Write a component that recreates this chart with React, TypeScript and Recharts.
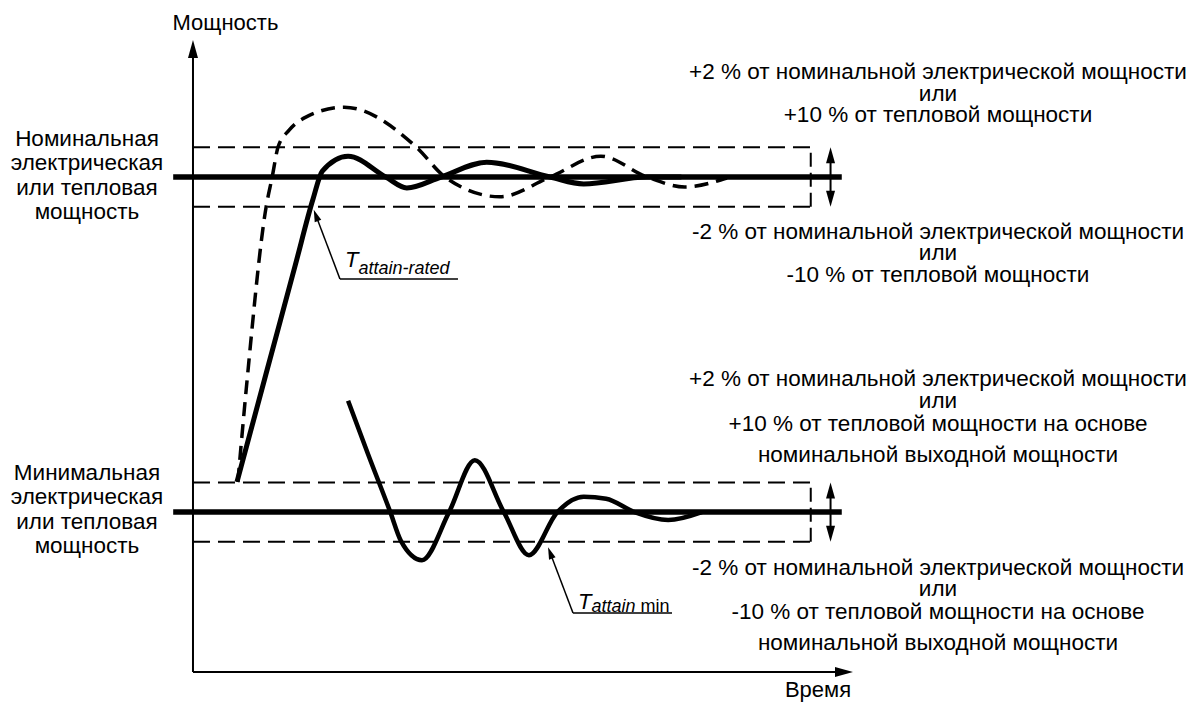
import { LineChart, Line, XAxis, YAxis, ReferenceLine, ReferenceDot } from "recharts"

// time in arbitrary units (0 at the power axis), power in % of nominal
const NOMINAL = 100
const MINIMUM = 32.3
const BAND = 6
const BOX_END = 93.6
const LEVEL_START = -3
const LEVEL_END = 98.3
const TOL_ARROW_T = 96.6

// response reaching nominal power (solid)
const ratedCurve = [
  { t: 6.67, p: 38.4 },
  { t: 11, p: 59.9 },
  { t: 15.5, p: 82.2 },
  { t: 18.2, p: 95.6 },
  { t: 19.6, p: 101.2 },
  { t: 23.5, p: 104.2 },
  { t: 29.2, p: 100 },
  { t: 32.4, p: 97.8 },
  { t: 37.6, p: 100 },
  { t: 44.5, p: 103 },
  { t: 54.1, p: 100 },
  { t: 59.2, p: 98.6 },
  { t: 68.8, p: 100 },
  { t: 74, p: 100 },
]

// overshooting response (dashed)
const overshootCurve = [
  { t: 6.8, p: 38.4 },
  { t: 8.2, p: 59 },
  { t: 11.1, p: 94.1 },
  { t: 12, p: 100 },
  { t: 12.9, p: 106.1 },
  { t: 14.6, p: 109.5 },
  { t: 17.1, p: 112.1 },
  { t: 22.9, p: 114.1 },
  { t: 33.8, p: 106.1 },
  { t: 38.2, p: 100 },
  { t: 46.5, p: 96 },
  { t: 54.1, p: 100 },
  { t: 61.8, p: 104.2 },
  { t: 68.8, p: 100 },
  { t: 74.5, p: 98 },
  { t: 80.9, p: 99.8 },
]

// response settling at minimum power (solid)
const minCurve = [
  { t: 23.5, p: 54.8 },
  { t: 26.5, p: 44.1 },
  { t: 29.9, p: 32.3 },
  { t: 31.5, p: 26.5 },
  { t: 34.7, p: 22.6 },
  { t: 38.8, p: 32.3 },
  { t: 42.7, p: 42.8 },
  { t: 47.1, p: 32.3 },
  { t: 50.9, p: 23.6 },
  { t: 55.2, p: 32.3 },
  { t: 59.2, p: 35.4 },
  { t: 62.6, p: 35 },
  { t: 66.9, p: 32.3 },
  { t: 72, p: 30.7 },
  { t: 77.1, p: 32.3 },
]

const upperNominalNote = ["+2 % от номинальной электрической мощности", "или", "+10 % от тепловой мощности"]
const lowerNominalNote = ["-2 % от номинальной электрической мощности", "или", "-10 % от тепловой мощности"]
const upperMinNote = [
  "+2 % от номинальной электрической мощности",
  "или",
  "+10 % от тепловой мощности на основе",
  "номинальной выходной мощности",
]
const lowerMinNote = [
  "-2 % от номинальной электрической мощности",
  "или",
  "-10 % от тепловой мощности на основе",
  "номинальной выходной мощности",
]
const nominalLabel = ["Номинальная", "электрическая", "или тепловая", "мощность"]
const minimumLabel = ["Минимальная", "электрическая", "или тепловая", "мощность"]

const FONT = "'Liberation Sans', Arial, sans-serif"

function arrowShape(head: number, half: number, both: boolean, width: number) {
  return (props: any) => {
    const { x1, y1, x2, y2 } = props
    const len = Math.hypot(x2 - x1, y2 - y1) || 1
    const ux = (x2 - x1) / len
    const uy = (y2 - y1) / len
    const tri = (tx: number, ty: number, dx: number, dy: number) => {
      const bx = tx - dx * head
      const by = ty - dy * head
      return `${tx},${ty} ${bx - dy * half},${by + dx * half} ${bx + dy * half},${by - dx * half}`
    }
    const sx = both ? x1 + ux * head * 0.6 : x1
    const sy = both ? y1 + uy * head * 0.6 : y1
    return (
      <g>
        <line x1={sx} y1={sy} x2={x2 - ux * head * 0.6} y2={y2 - uy * head * 0.6} stroke="#000" strokeWidth={width} />
        <polygon points={tri(x2, y2, ux, uy)} fill="#000" />
        {both && <polygon points={tri(x1, y1, -ux, -uy)} fill="#000" />}
      </g>
    )
  }
}

function textShape(lines: string[], steps: number[], anchor: "start" | "middle" | "end", size: number) {
  return (props: any) => (
    <text x={props.cx} y={props.cy} textAnchor={anchor} fontSize={size} fontFamily={FONT} fill="#000">
      {lines.map((s, i) => (
        <tspan key={i} x={props.cx} dy={i === 0 ? 0 : steps[i - 1]}>
          {s}
        </tspan>
      ))}
    </text>
  )
}

const ratedTag = (props: any) => (
  <text x={props.cx} y={props.cy} fontFamily={FONT} fill="#000" fontStyle="italic">
    <tspan fontSize={22}>T</tspan>
    <tspan fontSize={18} dy={7}>attain-rated</tspan>
  </text>
)

const minTag = (props: any) => (
  <text x={props.cx} y={props.cy} fontFamily={FONT} fill="#000">
    <tspan fontSize={22} fontStyle="italic">T</tspan>
    <tspan fontSize={18} dy={3} fontStyle="italic">attain</tspan>
    <tspan fontSize={18}> min</tspan>
  </text>
)

function Band({ level }: { level: number }) {
  const dash = "17 8"
  return (
    <>
      <ReferenceLine segment={[{ x: 0, y: level + BAND }, { x: BOX_END, y: level + BAND }]} stroke="#000" strokeWidth={2} strokeDasharray={dash} />
      <ReferenceLine segment={[{ x: 0, y: level - BAND }, { x: BOX_END, y: level - BAND }]} stroke="#000" strokeWidth={2} strokeDasharray={dash} />
      <ReferenceLine segment={[{ x: BOX_END, y: level - BAND }, { x: BOX_END, y: level + BAND }]} stroke="#000" strokeWidth={2} strokeDasharray="14 6" />
      <ReferenceLine segment={[{ x: LEVEL_START, y: level }, { x: LEVEL_END, y: level }]} stroke="#000" strokeWidth={5.5} />
      <ReferenceLine
        segment={[{ x: TOL_ARROW_T, y: level - BAND }, { x: TOL_ARROW_T, y: level + BAND }]}
        shape={arrowShape(16, 4.5, true, 2)}
      />
    </>
  )
}

export default function App() {
  return (
    <div style={{ position: "absolute", left: 0, top: 0, background: "#fff" }}>
      <LineChart width={1195} height={702} margin={{ top: 0, right: 0, bottom: 0, left: 0 }}>
        <XAxis type="number" dataKey="t" domain={[-29.24, 151.82]} allowDataOverflow hide />
        <YAxis type="number" dataKey="p" domain={[-6.06, 135.76]} allowDataOverflow hide />

        {/* axes */}
        <ReferenceLine segment={[{ x: 0, y: 0 }, { x: 0, y: 127.7 }]} shape={arrowShape(18, 5, false, 2)} />
        <ReferenceLine segment={[{ x: 0, y: 0 }, { x: 100, y: 0 }]} shape={arrowShape(18, 5, false, 2)} />

        <Band level={NOMINAL} />
        <Band level={MINIMUM} />

        <Line data={overshootCurve} dataKey="p" type="monotone" stroke="#000" strokeWidth={3.5} strokeDasharray="14 8" dot={false} activeDot={false} isAnimationActive={false} />
        <Line data={ratedCurve} dataKey="p" type="monotone" stroke="#000" strokeWidth={5} dot={false} activeDot={false} isAnimationActive={false} />
        <Line data={minCurve} dataKey="p" type="monotone" stroke="#000" strokeWidth={4.5} dot={false} activeDot={false} isAnimationActive={false} />

        {/* annotation leaders */}
        <ReferenceLine segment={[{ x: 22.27, y: 79.4 }, { x: 18.3, y: 93.4 }]} shape={arrowShape(12, 3.5, false, 1.5)} />
        <ReferenceLine segment={[{ x: 22.27, y: 79.4 }, { x: 40.15, y: 79.4 }]} stroke="#000" strokeWidth={1.5} />
        <ReferenceLine segment={[{ x: 57.58, y: 11.9 }, { x: 53.8, y: 25.2 }]} shape={arrowShape(12, 3.5, false, 1.5)} />
        <ReferenceLine segment={[{ x: 57.58, y: 11.9 }, { x: 72.58, y: 11.9 }]} stroke="#000" strokeWidth={1.5} />
        <ReferenceDot x={23.03} y={81.8} r={1} shape={ratedTag} />
        <ReferenceDot x={58.33} y={12.7} r={1} shape={minTag} />

        {/* texts */}
        <ReferenceDot x={4.92} y={129.8} r={1} shape={textShape(["Мощность"], [], "middle", 22)} />
        <ReferenceDot x={94.7} y={-5.05} r={1} shape={textShape(["Время"], [], "middle", 22)} />
        <ReferenceDot x={-16.06} y={106.3} r={1} shape={textShape(nominalLabel, [24.5, 24.5, 24.5], "middle", 22.5)} />
        <ReferenceDot x={-16.06} y={38.8} r={1} shape={textShape(minimumLabel, [24.5, 24.5, 24.5], "middle", 22.5)} />
        <ReferenceDot x={112.88} y={119.8} r={1} shape={textShape(upperNominalNote, [21.5, 21.5], "middle", 22.5)} />
        <ReferenceDot x={112.88} y={87.5} r={1} shape={textShape(lowerNominalNote, [21.5, 21.5], "middle", 22.5)} />
        <ReferenceDot x={112.88} y={57.7} r={1} shape={textShape(upperMinNote, [22, 22.5, 31.5], "middle", 22.5)} />
        <ReferenceDot x={112.88} y={19.6} r={1} shape={textShape(lowerMinNote, [21.5, 22.5, 31], "middle", 22.5)} />
      </LineChart>
    </div>
  )
}
